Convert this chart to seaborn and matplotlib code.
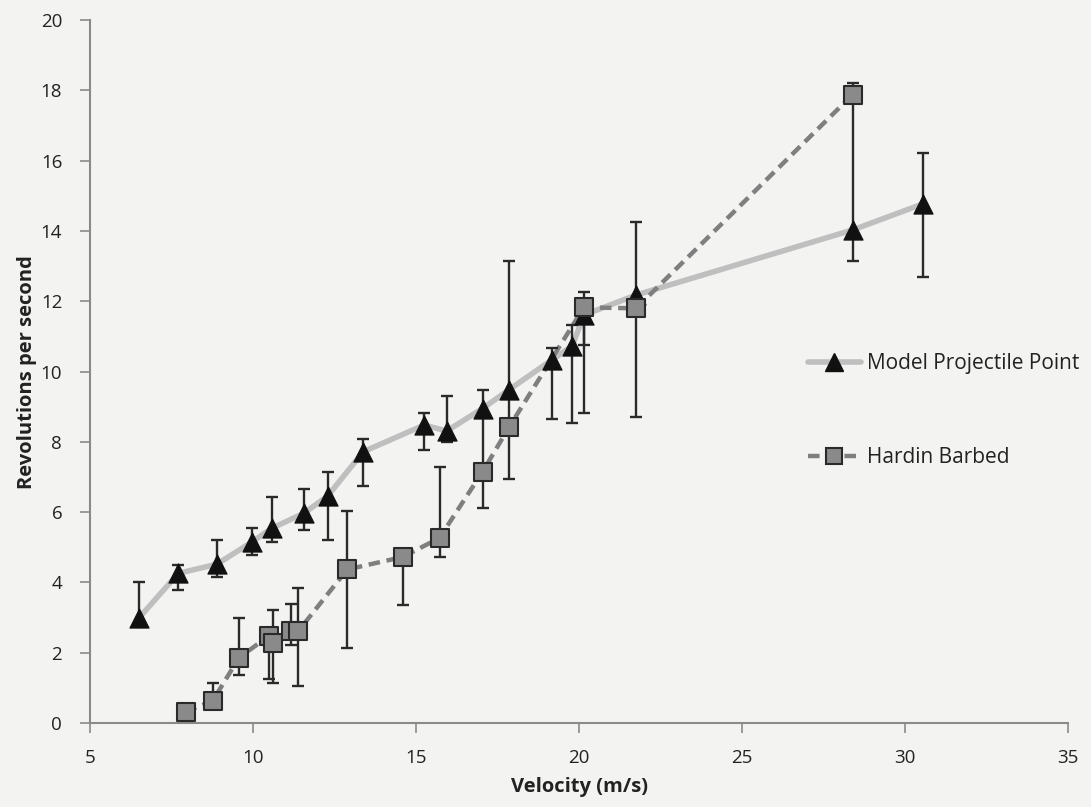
import numpy as np
import pandas as pd
import matplotlib
matplotlib.use("Agg")
import matplotlib.pyplot as plt
from matplotlib.lines import Line2D
import seaborn as sns

# ---- data ----
tri_x = [6.50, 7.71, 8.89, 9.98, 10.57, 11.56, 12.29, 13.38, 15.25, 15.94,
         17.04, 17.86, 19.16, 19.79, 20.15, 21.75, 28.39, 30.54]
tri_y = [2.99, 4.26, 4.52, 5.16, 5.54, 5.97, 6.46, 7.72, 8.48, 8.31,
         8.95, 9.49, 10.33, 10.73, 11.61, 12.18, 14.03, 14.77]
tri_lo = [np.nan, 3.78, 4.16, 4.78, 5.16, 5.49, 5.21, 6.75, 7.77, 7.99,
          7.15, 8.43, 8.64, 8.53, 8.83, np.nan, 13.15, 12.70]
tri_hi = [4.00, 4.50, 5.21, 5.54, 6.44, 6.65, 7.14, 8.07, 8.81, 9.31,
          9.47, 13.15, 10.66, 11.32, np.nan, 14.26, 17.88, 16.23]

sq_x = [7.93, 8.76, 9.57, 10.49, 10.60, 11.17, 11.39, 12.89, 14.61, 15.72,
        17.04, 17.86, 20.15, 21.75, 28.39]
sq_y = [0.32, 0.63, 1.86, 2.48, 2.27, 2.62, 2.62, 4.37, 4.73, 5.27,
        7.15, 8.43, 11.83, 11.80, 17.88]
sq_lo = [0.22, np.nan, 1.37, 1.24, 1.15, 2.22, 1.05, 2.14, 3.36, 4.73,
         6.11, 6.95, 10.75, 8.70, np.nan]
sq_hi = [0.42, 1.13, 2.98, np.nan, 3.21, 3.38, 3.83, 6.03, np.nan, 7.29,
         np.nan, np.nan, 12.27, np.nan, 18.20]

series_names = ["Model Projectile Point", "Hardin Barbed"]
x_ticks = [5, 10, 15, 20, 25, 30, 35]
y_ticks = [0, 2, 4, 6, 8, 10, 12, 14, 16, 18, 20]

sns.set_theme(style="white")
plt.rcParams['font.family'] = ['Open Sans', 'DejaVu Sans']

bg = "#f3f3f1"
fig = plt.figure(figsize=(10.91, 8.07), dpi=100, facecolor=bg)
ax = fig.add_axes([0.0825, 0.104, 0.8965, 0.871])
ax.set_facecolor(bg)

df_t = pd.DataFrame({"x": tri_x, "y": tri_y, "lo": tri_lo, "hi": tri_hi})
df_s = pd.DataFrame({"x": sq_x, "y": sq_y, "lo": sq_lo, "hi": sq_hi})

tri_line = "#bfbfbf"
sq_line = "#7f7f7f"
sq_face = "#8a8a8a"
err_c = "#2a2a2a"
dash = (0, (2.6, 1.5))

sns.lineplot(data=df_t, x="x", y="y", ax=ax, color=tri_line, lw=4, sort=False, zorder=2)
sns.lineplot(data=df_s, x="x", y="y", ax=ax, color=sq_line, lw=3.2, sort=False, zorder=2.1)
ax.lines[-1].set_linestyle(dash)

def draw_err(df):
    y = df["y"].to_numpy()
    lo = df["lo"].fillna(df["y"]).to_numpy()
    hi = df["hi"].fillna(df["y"]).to_numpy()
    ax.errorbar(df["x"], y, yerr=np.vstack([y - lo, hi - y]), fmt="none",
                ecolor=err_c, elinewidth=1.7, capsize=0, zorder=3)
    caps = pd.concat([df[["x", "lo"]].rename(columns={"lo": "v"}),
                      df[["x", "hi"]].rename(columns={"hi": "v"})]).dropna()
    sns.scatterplot(data=caps, x="x", y="v", ax=ax, marker="_", s=70,
                    color=err_c, linewidth=1.7, zorder=3)

draw_err(df_t)
draw_err(df_s)

sns.scatterplot(data=df_t, x="x", y="y", ax=ax, marker="^", s=190, color="#111111",
                edgecolor="#111111", linewidth=0.8, zorder=4)
sns.scatterplot(data=df_s, x="x", y="y", ax=ax, marker="s", s=170, color=sq_face,
                edgecolor="#2a2a2a", linewidth=1.5, zorder=4)

ax.set_xlim(5, 35)
ax.set_ylim(0, 20)
ax.set_xticks(x_ticks)
ax.set_yticks(y_ticks)
ax.tick_params(axis="both", labelsize=13.5, colors="#8a8a8a", length=7, width=1.2,
               direction="out", left=True, bottom=True)
for lab in ax.get_xticklabels() + ax.get_yticklabels():
    lab.set_color("#222222")
ax.tick_params(axis="x", pad=12)
ax.tick_params(axis="y", pad=13)
for s in ["top", "right"]:
    ax.spines[s].set_visible(False)
for s in ["left", "bottom"]:
    ax.spines[s].set_color("#8a8a8a")
    ax.spines[s].set_linewidth(1.5)

ax.set_xlabel("Velocity (m/s)", fontsize=14.5, fontweight="bold", color="#222222", labelpad=7)
ax.set_ylabel("Revolutions per second", fontsize=14.5, fontweight="bold", color="#222222", labelpad=3)

handles = [
    Line2D([0], [0], color=tri_line, lw=4, marker="^", markersize=13,
           markerfacecolor="#111111", markeredgecolor="#111111"),
    Line2D([0], [0], color=sq_line, lw=3.2, linestyle=dash, marker="s", markersize=12,
           markerfacecolor=sq_face, markeredgecolor="#2a2a2a", markeredgewidth=1.5),
]
leg = ax.legend(handles, series_names, loc="upper left", bbox_to_anchor=(0.726, 0.538),
                frameon=False, fontsize=15, handlelength=2.5, labelspacing=3.5,
                handletextpad=0.3, borderaxespad=0)
for t in leg.get_texts():
    t.set_color("#222222")

fig.savefig("out.png", dpi=100, facecolor=bg)
